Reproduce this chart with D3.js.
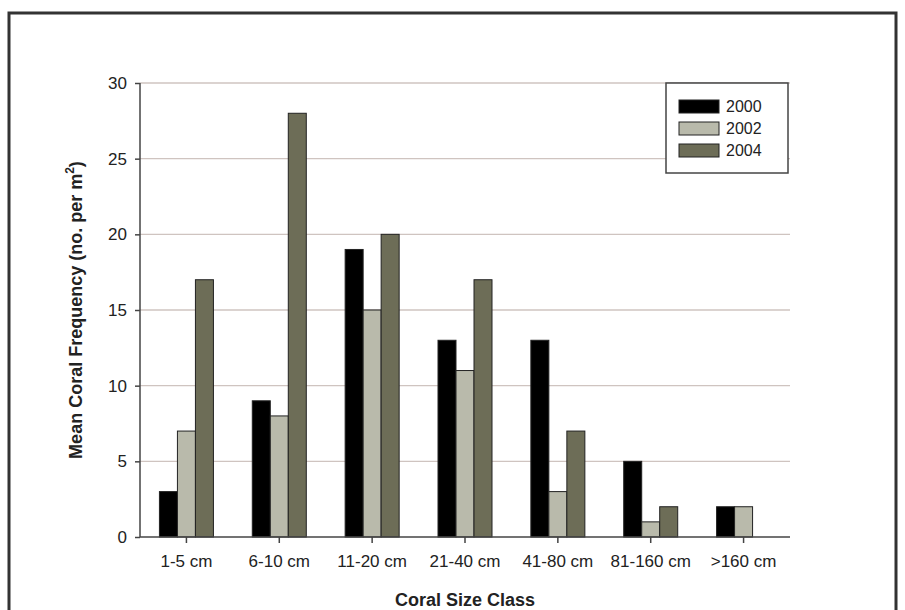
<!DOCTYPE html>
<html>
<head>
<meta charset="utf-8">
<script src="https://cdn.jsdelivr.net/npm/d3@7"></script>
<style>
  body { margin: 0; background: #fff; }
  svg { font-family: Arial, "Liberation Sans", sans-serif; }
</style>
</head>
<body>
<svg id="chart"></svg>
<script>
const categories = ["1-5 cm", "6-10 cm", "11-20 cm", "21-40 cm", "41-80 cm", "81-160 cm", ">160 cm"];
const years = ["2000", "2002", "2004"];
const v2000 = [3, 9, 19, 13, 13, 5, 2];
const v2002 = [7, 8, 15, 11, 3, 1, 2];
const v2004 = [17, 28, 20, 17, 7, 2, 0];
const yTicks = [0, 5, 10, 15, 20, 25, 30];
const colors = ["#000000", "#b9baab", "#6d6d57"];

const width = 905, height = 610;
const margin = { top: 83, left: 140, bottom: 73, right: 115 };
const iwidth = width - margin.left - margin.right;
const iheight = height - margin.top - margin.bottom;

const svg = d3.select("#chart").attr("width", width).attr("height", height);

// outer frame
svg.append("rect").attr("x", 9).attr("y", 13).attr("width", 887).attr("height", 620)
  .attr("fill", "none").attr("stroke", "#333").attr("stroke-width", 3);

const g = svg.append("g").attr("transform", `translate(${margin.left},${margin.top})`);

const y = d3.scaleLinear().domain([0, 30]).range([iheight, 0]);
const x = d3.scaleBand().domain(categories).range([0, iwidth]);
const xs = d3.scaleBand().domain(years).range([0, 54]);
const off = (x.bandwidth() - 54) / 2;

g.selectAll(".grid").data(yTicks.slice(1)).enter().append("line")
  .attr("x1", 0).attr("x2", iwidth)
  .attr("y1", d => y(d)).attr("y2", d => y(d))
  .attr("stroke", "#cfc4c0").attr("stroke-width", 1.3);

const series = [v2000, v2002, v2004];
series.forEach((vals, i) => {
  g.selectAll(".bar" + i).data(vals.map((v, j) => ({ c: categories[j], v })).filter(d => d.v > 0))
    .enter().append("rect")
    .attr("x", d => x(d.c) + off + xs(years[i]))
    .attr("y", d => y(d.v))
    .attr("width", xs.bandwidth())
    .attr("height", d => iheight - y(d.v))
    .attr("fill", colors[i]).attr("stroke", "#222").attr("stroke-width", 1);
});

const yAxis = g.append("g").call(d3.axisLeft(y).tickValues(yTicks).tickSize(5).tickPadding(8));
const xAxis = g.append("g").attr("transform", `translate(0,${iheight})`)
  .call(d3.axisBottom(x).tickSize(6).tickPadding(12));
[yAxis, xAxis].forEach(a => {
  a.attr("font-size", null).attr("font-family", null);
  a.selectAll("path,line").attr("stroke", "#444").attr("stroke-width", 1.5);
  a.selectAll("text").style("font-size", "17px").attr("fill", "#222");
});
yAxis.select("path").attr("d", `M0,${iheight}V0`);
xAxis.select("path").attr("d", `M0,0H${iwidth}`);

svg.append("text").attr("x", margin.left + iwidth / 2).attr("y", 606)
  .attr("text-anchor", "middle").style("font-size", "18px").attr("font-weight", "bold")
  .attr("fill", "#222").text("Coral Size Class");

const yl = svg.append("text").attr("transform", `translate(82,${margin.top + iheight / 2}) rotate(-90)`)
  .attr("text-anchor", "middle").style("font-size", "18px").attr("font-weight", "bold").attr("fill", "#222");
yl.append("tspan").text("Mean Coral Frequency (no. per m");
yl.append("tspan").style("font-size", "12px").attr("dy", -8).text("2");
yl.append("tspan").attr("dy", 8).text(")");

const lg = svg.append("g").attr("transform", "translate(666,83)");
lg.append("rect").attr("width", 122).attr("height", 90).attr("fill", "#fff")
  .attr("stroke", "#444").attr("stroke-width", 1.5);
years.forEach((yr, i) => {
  lg.append("rect").attr("x", 13).attr("y", 17 + i * 22).attr("width", 40).attr("height", 13)
    .attr("fill", colors[i]).attr("stroke", "#222");
  lg.append("text").attr("x", 60).attr("y", 29 + i * 22).style("font-size", "16px")
    .attr("fill", "#222").text(yr);
});
</script>
</body>
</html>
